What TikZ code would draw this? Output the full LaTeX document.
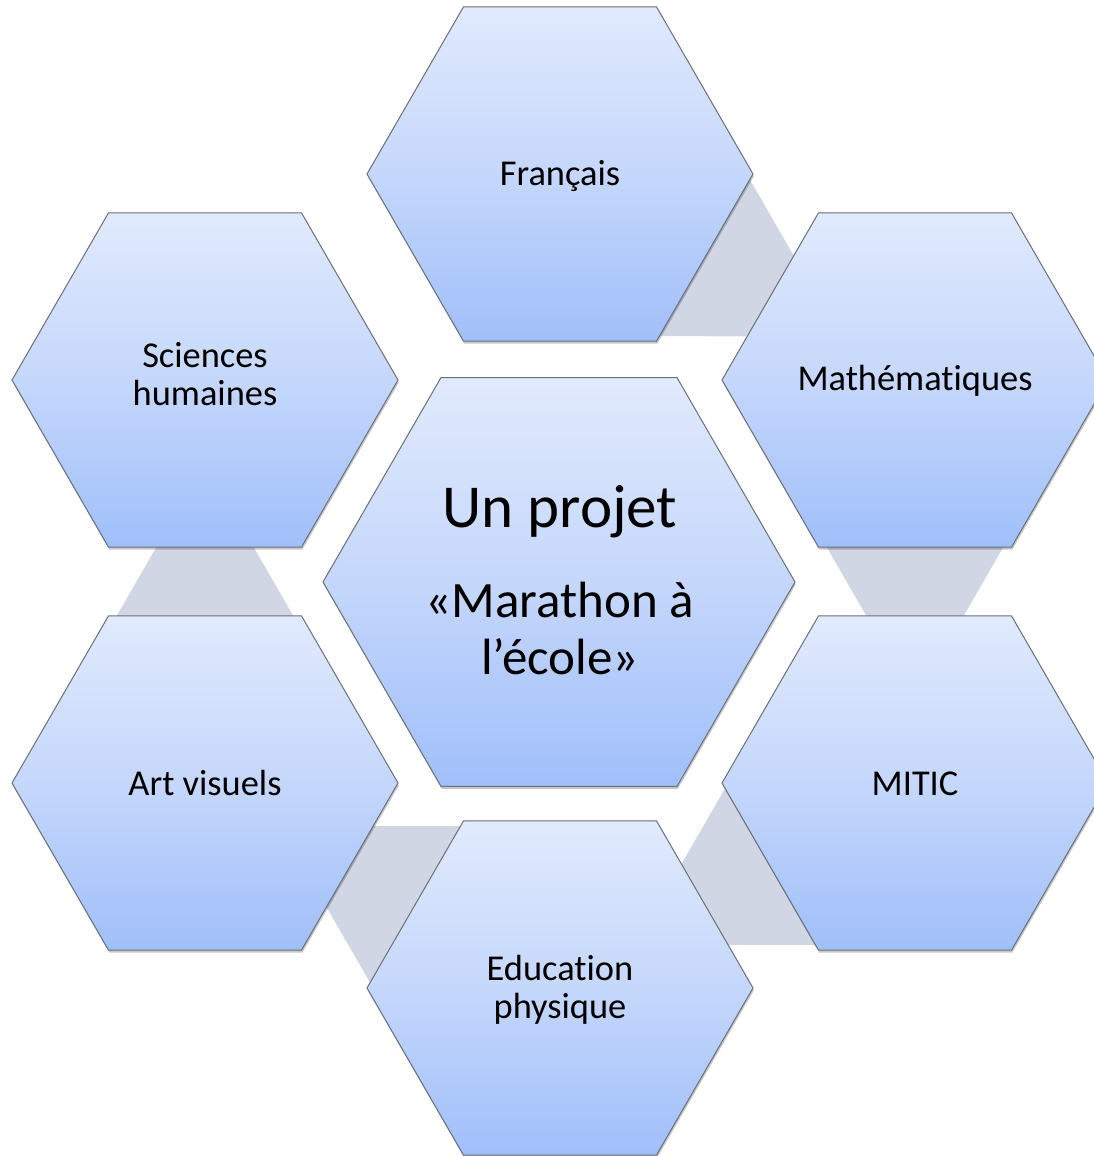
\documentclass[tikz,border=0pt]{standalone}
\usepackage{fontspec}
\setmainfont{Carlito}[Ligatures={NoCommon}]
\usetikzlibrary{shapes.geometric,calc,shadows}
\pgfdeclarelayer{bg}
\pgfsetlayers{bg,main}

\definecolor{hexTop}{RGB}{225,234,253}
\definecolor{hexMid}{RGB}{197,215,251}
\definecolor{hexBot}{RGB}{160,191,250}
\definecolor{hexLine}{RGB}{105,112,122}
\definecolor{linkFill}{RGB}{208,214,228}

\tikzset{
  hexa/.style={regular polygon, regular polygon sides=6, minimum size=386pt,
    inner sep=0pt, outer sep=0pt, draw=hexLine, line width=1pt,
    top color=hexTop, bottom color=hexBot, middle color=hexMid,
    drop shadow={shadow xshift=0.8pt, shadow yshift=-2.5pt, opacity=0.22, fill=black}},
  bighexa/.style={hexa, minimum size=472pt},
  lbl/.style={anchor=base, inner sep=0pt, font=\fontsize{36.4}{38.5}\selectfont},
  link/.style={fill=linkFill, draw=none},
}

% tapered band between two neighbouring hexagons, narrowing toward the second one
\newcommand\hexlink[2]{%
  \coordinate (m-#1-#2) at ($(#1)!0.5!(#2)$);
  \coordinate (b-#1-#2) at ($(m-#1-#2)!-100pt!(#2)$);
  \fill[link] ($(b-#1-#2)!126.2pt!90:(#2)$) -- ($(m-#1-#2)!118.7pt!(#2)$)
    -- ($(b-#1-#2)!126.2pt!-90:(#2)$) -- cycle;
}

\begin{document}
\begin{tikzpicture}[x=1pt,y=-1pt]
\useasboundingbox (0,0) rectangle (1093,1156);

% hexagons
\node[hexa] (fr) at (560,174) {};
\node[hexa] (ma) at (915,380) {};
\node[hexa] (mi) at (915,783) {};
\node[hexa] (ed) at (560,988) {};
\node[hexa] (ar) at (205,783) {};
\node[hexa] (sc) at (205,380) {};
\node[bighexa] (ce) at (559,582) {};

% grey links behind the outer ring
\begin{pgfonlayer}{bg}
  \hexlink{fr}{ma}
  \hexlink{ma}{mi}
  \hexlink{mi}{ed}
  \hexlink{ed}{ar}
  \hexlink{ar}{sc}
\end{pgfonlayer}

% labels
\node[lbl] (t-fr) at (560,185) {Français};
\node[lbl] (t-ma) at (915,390) {Mathématiques};
\node[lbl] (t-mi) at (915,795) {MITIC};
\node[lbl] (t-ar) at (205,795) {Art visuels};
\node[lbl] (t-sc) at (205,367) {\begin{tabular}[t]{@{}c@{}}Sciences\\humaines\end{tabular}};
\node[lbl] (t-ed) at (560,980) {\begin{tabular}[t]{@{}c@{}}Education\\physique\end{tabular}};
\node[lbl, font=\fontsize{61}{70}\selectfont] (t-ce1) at (560,527) {Un projet};
\node[lbl, font=\fontsize{51}{57}\selectfont] (t-ce2) at (560,617)
  {\begin{tabular}[t]{@{}c@{}}«Marathon à\\l’école»\end{tabular}};
\end{tikzpicture}
\end{document}
